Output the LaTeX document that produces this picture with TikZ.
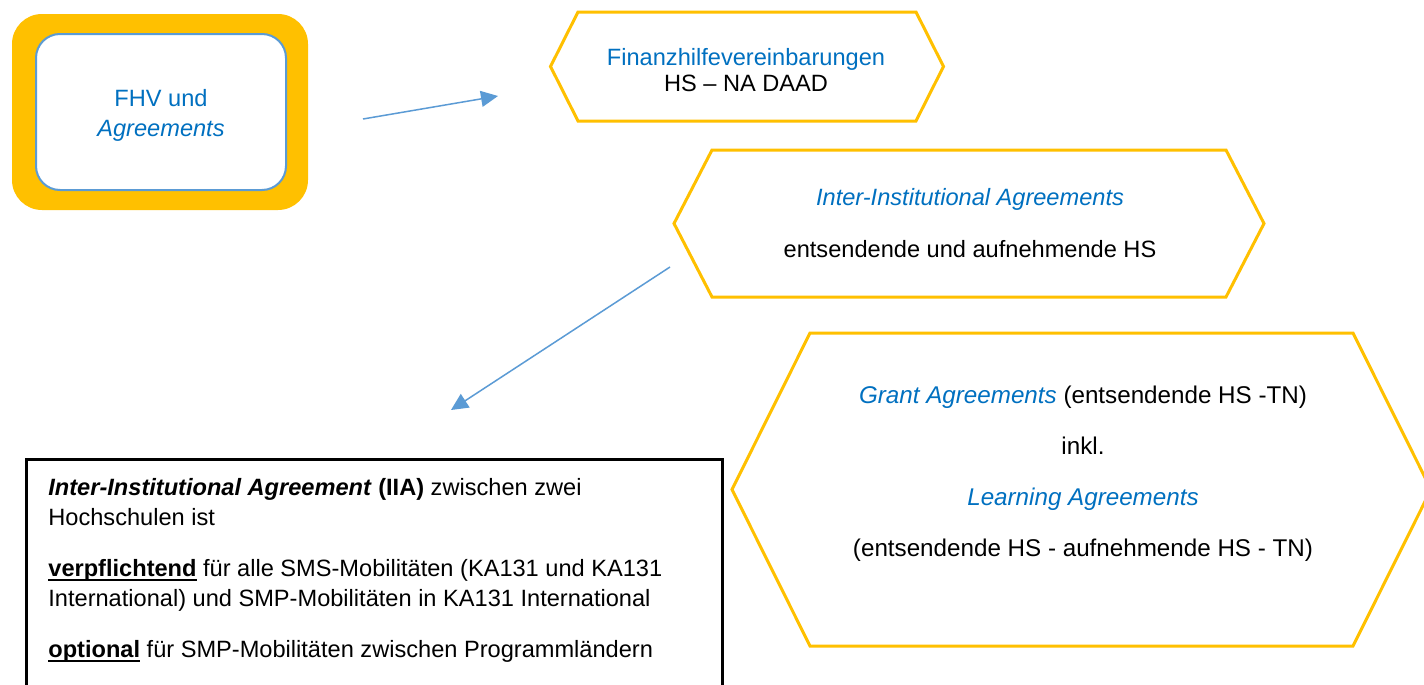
\documentclass[tikz,border=0pt]{standalone}
\usepackage{fontspec}
\setmainfont{Liberation Sans}
\usetikzlibrary{arrows.meta}
\definecolor{fhvorange}{HTML}{FFC000}
\definecolor{fhvblue}{HTML}{0070C0}
\definecolor{fhvline}{HTML}{5B9BD5}
\newcommand{\ulbf}[1]{\setbox0\hbox{\textbf{#1}}\rlap{\rule[-2.4pt]{\wd0}{1.1pt}}\box0\relax}
\tikzset{
 hexline/.style={fhvorange, line width=1.5pt, line join=miter},
 txt/.style={font=\fontsize{11.8}{14}\selectfont, inner sep=0pt, align=center},
 pfeil/.style={fhvline, line width=.75pt, -{Triangle[length=8.5pt,width=8pt]}}
}
\begin{document}
\begin{tikzpicture}[x=.5pt, y=-.5pt]
\useasboundingbox (0,0) rectangle (1424,685);
\fill[white] (0,0) rectangle (1424,685);
\fill[fhvorange, rounded corners=15pt] (12,14) rectangle (308,210);
\draw[fhvline, fill=white, line width=1pt, rounded corners=12pt] (36,34) rectangle (286,190);
\node[txt, text=fhvblue, font=\fontsize{11.8}{15}\selectfont] (fhv) at (161,115) {FHV und\\\textit{Agreements}};
\foreach \cx/\cy/\hw/\hh/\tip in {747/66.5/169/54.5/27.5, 969/223.5/257/73.5/38, 1081.5/489.5/271.5/156.5/78}
 \draw[hexline] (\cx-\hw-\tip,\cy) -- ++(\tip,-\hh) -- ++(2*\hw,0) -- ++(\tip,\hh) -- ++(-\tip,\hh) -- ++(-2*\hw,0) -- cycle;
\draw[black, line width=1.5pt] (26,459) rectangle (722,700);
\node[txt, font=\fontsize{11.8}{13}\selectfont] (fin) at (746,70) {\textcolor{fhvblue}{Finanzhilfevereinbarungen}\\HS – NA DAAD};
\node[txt] (iia) at (970,223) {\textcolor{fhvblue}{\textit{Inter-Institutional Agreements}}\\[12pt]entsendende und aufnehmende HS};
\node[txt, font=\fontsize{12.1}{14}\selectfont] (grant) at (1083,474) {\textcolor{fhvblue}{\textit{Grant Agreements}} (entsendende HS -TN)\\[11.5pt]inkl.\\[11.5pt]\textcolor{fhvblue}{\textit{Learning Agreements}}\\[11.5pt](entsendende HS - aufnehmende HS - TN)};
\node[txt, align=left, anchor=north west, font=\fontsize{11.8}{15}\selectfont] (iiatext) at (48,478) {\textbf{\textit{Inter-Institutional Agreement} (IIA)} zwischen zwei\\Hochschulen ist\\[10.5pt]\ulbf{verpflichtend} für alle SMS-Mobilitäten (KA131 und KA131\\International) und SMP-Mobilitäten in KA131 International\\[10.5pt]\ulbf{optional} für SMP-Mobilitäten zwischen Programmländern};
\coordinate (a1s) at (363,119);
\coordinate (a1e) at (498,96);
\draw[pfeil] (a1s) -- (a1e);
\coordinate (a2s) at (670,267);
\coordinate (a2e) at (451,410);
\draw[pfeil] (a2s) -- (a2e);
\end{tikzpicture}
\end{document}
